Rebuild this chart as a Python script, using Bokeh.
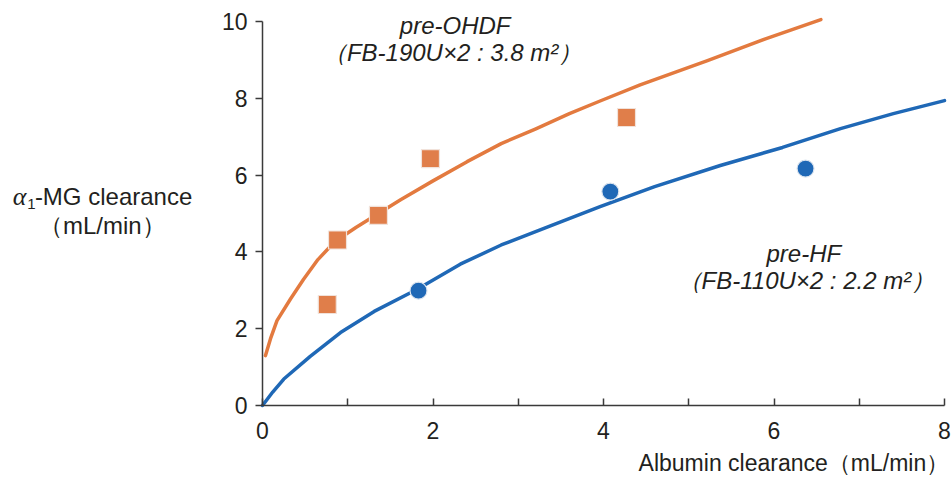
from bokeh.plotting import figure
from bokeh.models import Range1d, FixedTicker, Label, LinearAxis
from bokeh.embed import file_html
from bokeh.resources import INLINE

# Fitted clearance curves (albumin clearance vs alpha1-MG clearance, mL/min)
ohdf_curve_x = [0.035, 0.094, 0.17, 0.33, 0.48, 0.65, 0.85, 1.1, 1.36, 1.62, 2.0, 2.4,
                2.8, 3.2, 3.6, 3.96, 4.43, 5.22, 5.9, 6.55]
ohdf_curve_y = [1.30, 1.74, 2.21, 2.78, 3.28, 3.80, 4.27, 4.64, 5.00, 5.36, 5.85, 6.35,
                6.82, 7.20, 7.60, 7.93, 8.35, 8.98, 9.55, 10.05]

hf_curve_x = [0.0, 0.12, 0.25, 0.56, 0.915, 1.31, 1.81, 2.32, 2.8, 3.4, 3.96, 4.6,
              5.37, 6.1, 6.78, 7.4, 8.0]
hf_curve_y = [0.0, 0.35, 0.69, 1.28, 1.90, 2.45, 3.02, 3.68, 4.18, 4.70, 5.18, 5.70,
              6.25, 6.72, 7.21, 7.60, 7.94]

# Measured points
ohdf_alb = [0.76, 0.88, 1.36, 1.97, 4.27]
ohdf_a1mg = [2.63, 4.31, 4.95, 6.43, 7.50]

hf_alb = [1.83, 4.08, 6.37]
hf_a1mg = [2.99, 5.57, 6.17]

x_ticks = [0, 2, 4, 6, 8]
x_minor_ticks = [1, 3, 5, 7]
y_ticks = [0, 2, 4, 6, 8, 10]

ORANGE = "#E37A3F"
ORANGE_MARK = "#E07E4A"
BLUE = "#1F68B6"
FONT = "Liberation Sans"
INK = "#231F20"
AXIS = "#3a3a3a"
TEXT_SIZE = "24px"

# The frame fills the canvas; the axes sit at the origin and the titles
# live in the margin around it.
p = figure(width=952, height=480, output_backend="svg", toolbar_location=None,
           x_range=Range1d(-3.0733, 8.0938), y_range=Range1d(-1.953, 10.547),
           x_axis_location=None, y_axis_location=None, min_border=0)
p.outline_line_color = None
p.xgrid.visible = False
p.ygrid.visible = False
p.background_fill_color = "white"
p.border_fill_color = "white"

xaxis = LinearAxis(fixed_location=0, bounds=(0, 8),
                   ticker=FixedTicker(ticks=x_ticks, minor_ticks=x_minor_ticks))
yaxis = LinearAxis(fixed_location=0, bounds=(0, 10),
                   ticker=FixedTicker(ticks=y_ticks))
for ax in (xaxis, yaxis):
    ax.axis_line_color = AXIS
    ax.axis_line_width = 1.5
    ax.major_tick_line_color = AXIS
    ax.major_tick_line_width = 1.5
    ax.minor_tick_line_color = AXIS
    ax.minor_tick_line_width = 1.5
    ax.major_label_text_font = FONT
    ax.major_label_text_font_size = "23px"
    ax.major_label_text_color = INK

xaxis.major_tick_in = 7
xaxis.major_tick_out = 0
xaxis.minor_tick_in = 7
xaxis.minor_tick_out = 0
xaxis.major_label_standoff = 16

yaxis.major_tick_in = 0
yaxis.major_tick_out = 7
yaxis.minor_tick_in = 0
yaxis.minor_tick_out = 0
yaxis.major_label_standoff = 8

p.add_layout(xaxis, "below")
p.add_layout(yaxis, "left")

# curves
p.line(ohdf_curve_x, ohdf_curve_y, line_color=ORANGE, line_width=3.5,
       line_join="round", line_cap="round")
p.line(hf_curve_x, hf_curve_y, line_color=BLUE, line_width=3.5,
       line_join="round", line_cap="round")

# measured points
p.scatter(ohdf_alb, ohdf_a1mg, marker="square", size=18, fill_color=ORANGE_MARK,
          line_color="#F1E2DA", line_width=1.2)
p.scatter(hf_alb, hf_a1mg, marker="circle", size=17, fill_color=BLUE,
          line_color="#DCE4EE", line_width=1.2)


def text(x, y, s, size=TEXT_SIZE, align="left", style="normal", font=FONT):
    p.add_layout(Label(x=x, y=y, text=s, text_font=font, text_font_size=size,
                       text_font_style=style, text_align=align,
                       text_baseline="middle", text_color=INK))


# series annotations
text(2.26, 9.90, "pre-OHDF", align="center", style="italic")
text(2.23, 9.19, "（FB-190U×2 : 3.8 m²）", align="center", style="italic")
text(6.35, 3.97, "pre-HF", align="center", style="italic")
text(6.38, 3.26, "（FB-110U×2 : 2.2 m²）", align="center", style="italic")

# y axis title
text(-2.93, 5.43, "α", size="26px", style="italic", font="Liberation Serif")
text(-2.76, 5.24, "1", size="15px")
text(-2.67, 5.43, "-MG clearance")
text(-1.88, 4.69, "（mL/min）", align="center")

# x axis title, right-aligned just inside the canvas edge
text(8.055, -1.51, "Albumin clearance（mL/min）", size="23px", align="right")

open("out.html", "w").write(file_html(p, INLINE))
